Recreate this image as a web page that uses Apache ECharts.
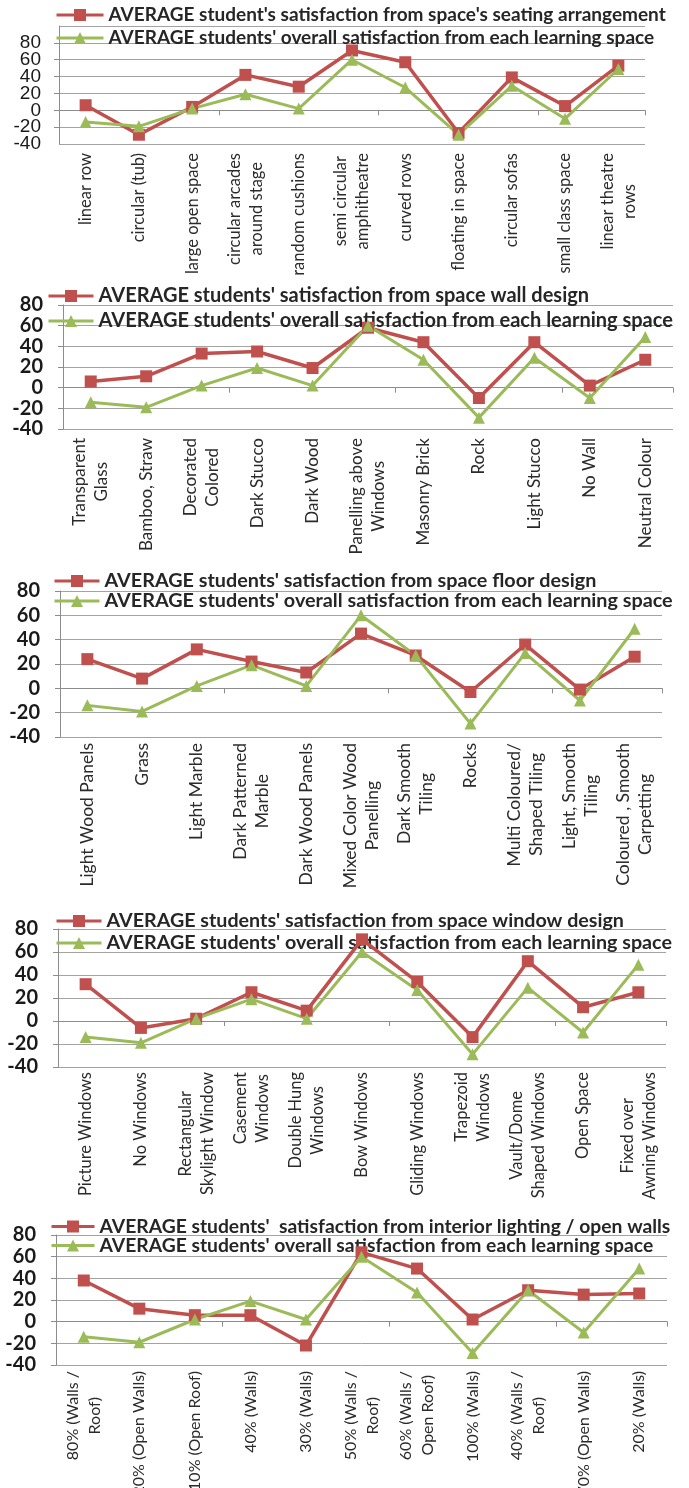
<!DOCTYPE html>
<html>
<head>
<meta charset="utf-8">
<script src="https://cdn.jsdelivr.net/npm/echarts@6/dist/echarts.min.js"></script>
<style>
  html, body { margin: 0; padding: 0; background: #ffffff; }
  #chart { width: 689px; height: 1488px; }
</style>
</head>
<body>
<div id="chart"></div>
<script>
// ---- data ----------------------------------------------------------------
const overallName = "AVERAGE students' overall satisfaction from each learning space";
const overallValues = [-14, -19, 2, 19, 2, 60, 27, -29, 29, -10, 49];

const seatingName = "AVERAGE student's satisfaction from space's seating arrangement";
const seatingCategories = ["linear row", "circular (tub)", "large open space", "circular arcades\naround stage",
  "random cushions", "semi circular\namphitheatre", "curved rows", "floating in space", "circular sofas",
  "small class space", "linear theatre\nrows"];
const seatingValues = [6, -29, 4, 42, 28, 71, 57, -27, 39, 5, 53];

const wallName = "AVERAGE students' satisfaction from space wall design";
const wallCategories = ["Transparent\nGlass", "Bamboo, Straw", "Decorated\nColored", "Dark Stucco", "Dark Wood",
  "Panelling above\nWindows", "Masonry Brick", "Rock", "Light Stucco", "No Wall", "Neutral Colour"];
const wallValues = [6, 11, 33, 35, 19, 58, 44, -10, 44, 2, 27];

const floorName = "AVERAGE students' satisfaction from space floor design";
const floorCategories = ["Light Wood Panels", "Grass", "Light Marble", "Dark Patterned\nMarble", "Dark Wood Panels",
  "Mixed Color Wood\nPanelling", "Dark Smooth\nTiling", "Rocks", "Multi Coloured/\nShaped Tiling",
  "Light, Smooth\nTiling", "Coloured , Smooth\nCarpetting"];
const floorValues = [24, 8, 32, 22, 13, 45, 27, -3, 36, -1, 26];

const windowName = "AVERAGE students' satisfaction from space window design";
const windowCategories = ["Picture Windows", "No Windows", "Rectangular\nSkylight Window", "Casement\nWindows",
  "Double Hung\nWindows", "Bow Windows", "Gliding Windows", "Trapezoid\nWindows", "Vault/Dome\nShaped Windows",
  "Open Space", "Fixed over\nAwning Windows"];
const windowValues = [32, -6, 2, 25, 9, 71, 34, -14, 52, 12, 25];

const lightingName = "AVERAGE students'  satisfaction from interior lighting / open walls";
const lightingCategories = ["80% (Walls /\nRoof)", "20% (Open Walls)", "10% (Open Roof)", "40% (Walls)",
  "30% (Walls)", "50% (Walls /\nRoof)", "60% (Walls /\nOpen Roof)", "100% (Walls)", "40% (Walls /\nRoof)",
  "70% (Open Walls)", "20% (Walls)"];
const lightingValues = [38, 12, 6, 6, -22, 64, 49, 2, 29, 25, 26];

const valueMin = -40;
const valueMax = 80;
const valueStep = 20;

const panels = [
  { name: seatingName, categories: seatingCategories, values: seatingValues },
  { name: wallName, categories: wallCategories, values: wallValues },
  { name: floorName, categories: floorCategories, values: floorValues },
  { name: windowName, categories: windowCategories, values: windowValues },
  { name: lightingName, categories: lightingCategories, values: lightingValues }
];

// ---- layout & style per panel ---------------------------------------------
// interleave: tight panels put every other value label on a second,
// label-only y axis so neighbouring labels are never dropped.
const layouts = [
  { grid: { left: 59, top: 26, width: 586, height: 118 }, topValue: 100, interleave: true,
    legend: { left: 55, top: 4, itemWidth: 47, gap: 1, lineHeight: 22, fontSize: 19 },
    yLabel: { family: "'Liberation Sans', Arial, sans-serif", weight: 'normal', size: 19, margin: 18 },
    xMargin: 9, catFont: 16.5 },
  { grid: { left: 63, top: 305, width: 610, height: 124 }, topValue: 80,
    legend: { left: 47, top: 285, itemWidth: 45, gap: 3, lineHeight: 22, fontSize: 20 },
    yLabel: { family: "Lato, sans-serif", weight: 'bold', size: 20, margin: 20 },
    xMargin: 9, catFont: 17 },
  { grid: { left: 60, top: 591, width: 602, height: 146 }, topValue: 80,
    legend: { left: 53, top: 571, itemWidth: 45, gap: 0, lineHeight: 20, fontSize: 19.8 },
    yLabel: { family: "Lato, sans-serif", weight: 'bold', size: 20, margin: 20 },
    xMargin: 6, catFont: 17.5 },
  { grid: { left: 58, top: 929, width: 608, height: 138 }, topValue: 80,
    legend: { left: 55, top: 910, itemWidth: 45, gap: 0, lineHeight: 22, fontSize: 19.7 },
    yLabel: { family: "Lato, sans-serif", weight: 'bold', size: 20, margin: 20 },
    xMargin: 5, catFont: 16.5 },
  { grid: { left: 56, top: 1235, width: 611, height: 130 }, topValue: 80,
    legend: { left: 50, top: 1217, itemWidth: 43, gap: 0, lineHeight: 18, fontSize: 19.3 },
    yLabel: { family: "Lato, sans-serif", weight: 'bold', size: 20, margin: 20 },
    xMargin: 6, catFont: 16 }
];

const RED = '#C0504D';
const GREEN = '#9BBB59';
const AXIS_GREY = '#8c8c8c';
const GRID_GREY = '#a3a3a3';
const CAT_FONT_FAMILY = 'Lato';
const CAT_LINE_HEIGHT = 22;

// ---- category labels: lines of a wrapped label are centred on each other ----
const measureCtx = document.createElement('canvas').getContext('2d');

// Builds, for one axis, the rich styles and the formatted string of each label.
// Every line is right-aligned to the axis (labels are rotated) and shorter
// lines get padding so they sit centred on the longest line.
function buildCategoryLabels(categories, fontSize) {
  measureCtx.font = fontSize + 'px ' + CAT_FONT_FAMILY;
  const rich = {};
  const formatted = {};
  categories.forEach(function (cat) {
    const lines = cat.split('\n');
    const widths = lines.map(function (s) { return measureCtx.measureText(s).width; });
    const maxW = Math.max.apply(null, widths);
    formatted[cat] = lines.map(function (line, k) {
      const pad = Math.round((maxW - widths[k]) / 2);
      const key = 'p' + pad;
      if (!rich[key]) {
        rich[key] = { align: 'right', padding: [0, pad, 0, 0], fontFamily: CAT_FONT_FAMILY,
          fontSize: fontSize, lineHeight: CAT_LINE_HEIGHT, color: '#2b2b2b' };
      }
      return '{' + key + '|' + line + '}';
    }).join('\n');
  });
  return { rich: rich, formatted: formatted };
}

const option = {
  animation: false,
  backgroundColor: '#ffffff',
  grid: [], xAxis: [], yAxis: [], legend: [], series: []
};

function valueAxis(gridIndex, L, labelFilter, interval, showMin, showMax, withLines) {
  return {
    type: 'value', gridIndex: gridIndex, position: 'left', min: valueMin, max: L.topValue, interval: interval,
    axisLine: { show: withLines, lineStyle: { color: AXIS_GREY } },
    axisTick: { show: withLines, length: 5, lineStyle: { color: AXIS_GREY } },
    splitLine: { show: withLines, lineStyle: { color: GRID_GREY, width: 1 } },
    axisLabel: {
      margin: L.yLabel.margin, fontFamily: L.yLabel.family, fontWeight: L.yLabel.weight,
      fontSize: L.yLabel.size, color: '#1a1a1a',
      showMinLabel: showMin, showMaxLabel: showMax, hideOverlap: false,
      formatter: function (v) { return labelFilter(v) ? String(v) : ''; }
    }
  };
}

panels.forEach(function (panel, i) {
  const L = layouts[i];
  option.grid.push(Object.assign({ containLabel: false, outerBoundsMode: 'none' }, L.grid));

  // zero line with boundary ticks
  option.xAxis.push({
    type: 'category', gridIndex: i, data: panel.categories, position: 'bottom',
    axisLine: { show: true, onZero: true, lineStyle: { color: AXIS_GREY, width: 1 } },
    axisTick: { show: true, length: 5, lineStyle: { color: AXIS_GREY } },
    axisLabel: { show: false }, splitLine: { show: false }
  });
  // category names under the plot
  const cat = buildCategoryLabels(panel.categories, L.catFont);
  option.xAxis.push({
    type: 'category', gridIndex: i, data: panel.categories, position: 'bottom', z: 6,
    axisLine: { show: false, onZero: false }, axisTick: { show: false }, splitLine: { show: false },
    axisLabel: {
      interval: 0, rotate: 90, margin: L.xMargin, hideOverlap: false, overflow: 'none', width: 400,
      formatter: function (v) { return cat.formatted[v]; },
      rich: cat.rich
    }
  });

  // main value axis (carries the series, grid lines and ticks)
  const mainIndex = option.yAxis.length;
  if (L.interleave) {
    option.yAxis.push(valueAxis(i, L, function (v) {
      return v <= valueMax && (v - valueMin) % (2 * valueStep) !== 0;
    }, valueStep, false, false, true));
    option.yAxis.push(valueAxis(i, L, function (v) {
      return v <= valueMax;
    }, 2 * valueStep, true, false, false));
  } else {
    option.yAxis.push(valueAxis(i, L, function (v) { return v <= valueMax; }, valueStep, true, true, true));
  }

  option.legend.push({
    orient: 'vertical', left: L.legend.left, top: L.legend.top, padding: 0, z: 1,
    itemWidth: L.legend.itemWidth, itemHeight: 15, itemGap: L.legend.gap,
    selectedMode: false,
    lineStyle: { width: 3 },
    textStyle: { fontFamily: 'Lato, sans-serif', fontWeight: 'bold', fontSize: L.legend.fontSize,
      lineHeight: L.legend.lineHeight, color: '#262626' },
    data: [panel.name, overallName]
  });

  option.series.push({
    type: 'line', name: panel.name, xAxisIndex: 2 * i, yAxisIndex: mainIndex, data: panel.values,
    symbol: 'rect', symbolSize: 12, showAllSymbol: true,
    lineStyle: { color: RED, width: 3.5 }, itemStyle: { color: RED }
  });
  option.series.push({
    type: 'line', name: overallName, xAxisIndex: 2 * i, yAxisIndex: mainIndex, data: overallValues,
    symbol: 'triangle', symbolSize: 12, showAllSymbol: true,
    lineStyle: { color: GREEN, width: 3 }, itemStyle: { color: GREEN }
  });
});

const chart = echarts.init(document.getElementById('chart'), null, { renderer: 'canvas' });
chart.setOption(option);
</script>
</body>
</html>
